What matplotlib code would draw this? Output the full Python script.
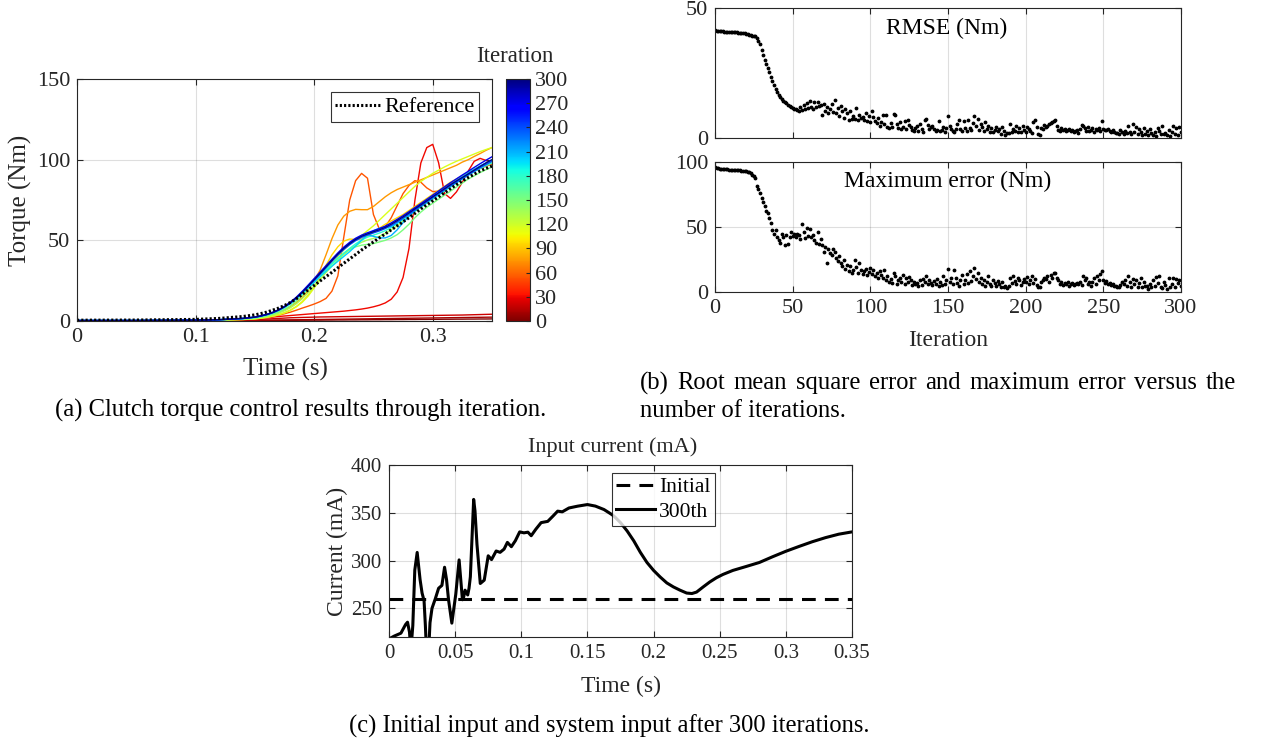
import numpy as np
import matplotlib
matplotlib.use('Agg')
import matplotlib.pyplot as plt
from matplotlib import colors, cm

plt.rcParams['font.family'] = ['Liberation Serif', 'DejaVu Serif']

# ---------------- data: panel (a) torque curves ----------------
time_a = [0, 0.05, 0.1, 0.12, 0.14,
          0.15, 0.155, 0.16, 0.165, 0.17, 0.175, 0.18, 0.185, 0.19, 0.195,
          0.2, 0.205, 0.21, 0.215, 0.22, 0.225, 0.23, 0.235, 0.24, 0.245,
          0.25, 0.255, 0.26, 0.265, 0.27, 0.275, 0.28, 0.285, 0.29, 0.295,
          0.3, 0.305, 0.31, 0.315, 0.32, 0.325, 0.33, 0.335, 0.34, 0.345,
          0.35]

reference = [0.5, 0.6, 1.0, 1.6, 2.8,
             3.8, 4.6, 5.5, 6.7, 8.0, 9.6, 11.5, 13.8, 16.5, 19.3,
             22.0, 24.8, 27.5, 30.2, 33.0, 35.8, 38.5, 41.2, 44.0, 46.5,
             49.0, 51.5, 54.0, 56.5, 59.0, 61.5, 64.0, 66.7, 69.5, 72.0,
             74.5, 77.0, 79.5, 82.0, 84.5, 86.8, 89.0, 91.0, 93.0, 94.6,
             96.0]

iter_shown = [0, 10, 20, 30, 55, 75, 95, 115, 135, 150, 180, 200, 210, 240, 270, 300]

torque_it0 = [0.2, 0.2, 0.3, 0.3, 0.3,
              0.3, 0.3, 0.35, 0.35, 0.4, 0.4, 0.45, 0.45, 0.5, 0.5,
              0.55, 0.55, 0.6, 0.6, 0.65, 0.65, 0.7, 0.7, 0.75, 0.75,
              0.8, 0.8, 0.85, 0.85, 0.9, 0.9, 0.95, 0.95, 1.0, 1.0,
              1.05, 1.05, 1.1, 1.1, 1.15, 1.15, 1.2, 1.2, 1.25, 1.25,
              1.3]
torque_it10 = [0.2, 0.2, 0.3, 0.3, 0.4,
               0.4, 0.45, 0.5, 0.55, 0.6, 0.65, 0.7, 0.75, 0.8, 0.85,
               0.9, 0.95, 1.0, 1.05, 1.1, 1.15, 1.2, 1.25, 1.3, 1.35,
               1.4, 1.45, 1.5, 1.55, 1.6, 1.65, 1.7, 1.75, 1.8, 1.85,
               1.9, 1.95, 2.0, 2.05, 2.1, 2.15, 2.2, 2.25, 2.3, 2.35,
               2.4]
torque_it20 = [0.2, 0.2, 0.3, 0.4, 0.6,
               0.8, 1.0, 1.2, 1.4, 1.6, 1.8, 2.0, 2.1, 2.2, 2.3,
               2.4, 2.5, 2.55, 2.6, 2.65, 2.7, 2.75, 2.8, 2.85, 2.9,
               2.95, 3.0, 3.05, 3.1, 3.15, 3.2, 3.25, 3.3, 3.35, 3.4,
               3.45, 3.5, 3.55, 3.6, 3.65, 3.7, 3.8, 3.9, 4.0, 4.1,
               4.2]
torque_it30 = [0.2, 0.2, 0.4, 0.6, 1.0,
               1.3, 1.6, 2.0, 2.4, 2.8, 3.1, 3.4, 3.7, 4.0, 4.3,
               4.6, 4.9, 5.2, 5.5, 5.8, 6.1, 6.5, 6.9, 7.4, 8.0,
               8.8, 9.8, 11.2, 13.5, 18.0, 27.0, 45.0, 75.0, 98.0, 107.5,
               109.5, 98.0, 79.0, 76.0, 80.0, 86.0, 93.0, 99.0, 100.8, 99.5,
               97.5]
torque_it55 = [0.2, 0.2, 0.4, 0.6, 1.0,
               1.4, 1.8, 2.3, 2.9, 3.6, 4.5, 5.5, 6.7, 8.0, 9.2,
               10.5, 12.0, 14.0, 18.5, 28.0, 52.0, 75.0, 87.0, 91.5, 88.5,
               66.0, 57.0, 58.5, 64.0, 71.5, 79.0, 84.0, 87.0, 86.0, 82.5,
               80.2, 80.5, 83.0, 85.0, 87.0, 89.5, 91.5, 93.0, 94.5, 96.0,
               97.3]
torque_it75 = [0.2, 0.2, 0.4, 0.6, 1.2,
               1.8, 2.4, 3.2, 4.2, 5.5, 7.0, 9.0, 11.5, 14.5, 19.0,
               25.0, 31.5, 41.0, 51.0, 59.5, 65.0, 68.0, 69.2, 69.0, 69.0,
               71.0, 74.0, 77.0, 79.5, 81.5, 83.0, 84.5, 86.0, 87.5, 89.0,
               90.5, 92.0, 93.5, 95.0, 96.5, 98.5, 100.0, 102.0, 103.8, 105.8,
               107.5]
torque_it95 = [0.2, 0.2, 0.4, 0.6, 1.0,
               1.4, 1.8, 2.4, 3.1, 4.0, 5.2, 6.8, 9.0, 12.0, 16.0,
               21.0, 27.5, 34.5, 41.0, 46.0, 49.5, 50.8, 50.5, 50.8, 52.5,
               55.0, 57.5, 60.0, 62.0, 64.0, 66.0, 68.5, 71.0, 73.5, 76.0,
               78.5, 81.0, 83.5, 86.0, 88.0, 90.0, 92.0, 94.0, 95.8, 97.5,
               99.0]
torque_it115 = [0.2, 0.2, 0.3, 0.5, 0.9,
                1.3, 1.7, 2.2, 2.9, 3.8, 5.0, 6.6, 8.8, 11.6, 15.5,
                20.5, 25.5, 30.5, 35.5, 40.0, 44.0, 47.5, 50.5, 53.0, 56.0,
                59.0, 62.5, 66.0, 69.5, 73.0, 76.5, 80.0, 83.5, 86.5, 89.0,
                91.5, 93.5, 95.5, 97.3, 99.0, 100.5, 102.0, 103.5, 105.0, 106.3,
                107.5]
torque_it135 = [0.2, 0.2, 0.4, 0.6, 1.1,
                1.6, 2.1, 2.8, 3.7, 4.8, 6.3, 8.2, 10.7, 13.8, 17.5,
                21.8, 26.0, 30.0, 34.0, 37.8, 41.2, 44.2, 46.8, 48.8, 50.2,
                51.2, 52.5, 54.2, 56.5, 59.0, 62.0, 65.0, 68.0, 71.0, 73.8,
                76.5, 79.0, 81.5, 84.0, 86.5, 89.0, 91.2, 93.2, 95.0, 96.7,
                98.2]
torque_it150 = [0.2, 0.2, 0.4, 0.7, 1.3,
                1.9, 2.5, 3.3, 4.3, 5.6, 7.3, 9.5, 12.3, 15.8, 19.8,
                24.0, 28.0, 32.0, 35.5, 39.0, 42.0, 44.5, 46.0, 47.0, 47.5,
                48.0, 49.0, 50.0, 51.5, 53.5, 56.5, 60.0, 64.0, 67.5, 70.5,
                73.0, 75.5, 78.0, 80.5, 83.0, 85.5, 88.0, 90.0, 92.0, 93.8,
                95.5]
torque_it180 = [0.3, 0.3, 0.5, 0.8, 1.5,
                2.2, 2.9, 3.8, 5.0, 6.5, 8.4, 10.8, 13.8, 17.2, 21.0,
                24.8, 28.5, 32.0, 35.5, 38.8, 42.0, 45.0, 47.8, 50.2, 52.0,
                53.2, 54.5, 56.0, 58.0, 60.5, 63.0, 65.5, 68.0, 70.5, 73.0,
                75.5, 78.0, 80.5, 83.0, 85.5, 88.0, 90.3, 92.5, 94.5, 96.3,
                98.0]
torque_it200 = [0.3, 0.3, 0.5, 0.8, 1.5,
                2.2, 2.9, 3.8, 5.0, 6.5, 8.4, 10.8, 13.8, 17.0, 20.5,
                24.0, 27.5, 30.8, 34.0, 37.0, 40.0, 43.0, 46.5, 50.0, 53.5,
                56.0, 57.5, 58.0, 58.5, 60.5, 63.5, 66.5, 69.5, 72.0, 74.5,
                77.0, 79.5, 82.0, 84.5, 87.0, 89.5, 91.8, 94.0, 96.0, 98.0,
                99.5]
torque_it210 = [0.3, 0.3, 0.5, 0.8, 1.6,
                2.4, 3.1, 4.0, 5.2, 6.8, 8.8, 11.3, 14.3, 17.8, 21.6,
                25.5, 29.5, 33.5, 37.5, 41.5, 45.0, 48.0, 50.5, 52.5, 53.5,
                52.5, 51.5, 51.5, 53.0, 56.5, 61.0, 65.0, 68.5, 71.5, 74.0,
                76.5, 79.0, 81.5, 84.0, 86.5, 89.0, 91.5, 93.8, 96.0, 98.0,
                99.8]
torque_it240 = [0.3, 0.3, 0.5, 0.8, 1.6,
                2.4, 3.1, 4.0, 5.2, 6.8, 8.8, 11.3, 14.3, 17.8, 21.5,
                25.2, 29.0, 33.0, 37.0, 40.8, 44.3, 47.3, 49.8, 51.8, 53.3,
                54.6, 55.8, 57.3, 59.2, 61.4, 63.7, 66.2, 68.7, 71.2, 73.8,
                76.3, 78.8, 81.3, 83.7, 86.0, 88.3, 90.6, 92.8, 95.0, 97.0,
                99.0]
torque_it270 = [0.3, 0.3, 0.5, 0.8, 1.6,
                2.4, 3.2, 4.1, 5.4, 7.0, 9.1, 11.7, 14.8, 18.4, 22.3,
                26.3, 30.3, 34.3, 38.3, 42.2, 45.8, 48.8, 51.3, 53.2, 54.7,
                56.0, 57.3, 58.8, 60.8, 63.0, 65.3, 67.8, 70.3, 72.8, 75.4,
                78.0, 80.6, 83.2, 85.7, 88.1, 90.5, 92.8, 95.2, 97.5, 99.7,
                101.8]
torque_it300 = [0.3, 0.3, 0.5, 0.8, 1.6,
                2.4, 3.1, 4.0, 5.2, 6.8, 8.8, 11.3, 14.3, 17.8, 21.6,
                25.5, 29.5, 33.5, 37.5, 41.5, 45.0, 48.0, 50.5, 52.5, 54.0,
                55.3, 56.5, 58.0, 60.0, 62.2, 64.5, 67.0, 69.5, 72.0, 74.5,
                77.0, 79.5, 82.0, 84.5, 86.8, 89.0, 91.2, 93.5, 95.8, 98.0,
                100.0]

torque_curves = [torque_it0, torque_it10, torque_it20, torque_it30, torque_it55,
                 torque_it75, torque_it95, torque_it115, torque_it135, torque_it150,
                 torque_it180, torque_it200, torque_it210, torque_it240,
                 torque_it270, torque_it300]

# ---------------- data: panel (b) errors vs iteration ----------------
rmse = [41.5, 41.3, 41.2, 41.1, 41.0, 41.0, 40.9, 40.9, 40.8, 40.8,
        40.8, 40.7, 40.7, 40.6, 40.6, 40.5, 40.5, 40.4, 40.3, 40.3,
        40.1, 40.0, 39.8, 39.6, 39.4, 39.3, 39.1, 38.5, 37.5, 36.0,
        34.0, 32.0, 30.0, 28.5, 27.0, 25.2, 23.5, 21.8, 20.2, 18.8,
        17.6, 16.6, 15.8, 15.0, 14.4, 13.8, 13.3, 12.8, 12.3, 12.0,
        11.6, 11.2, 11.0, 10.9, 10.5, 11.8, 10.6, 12.8, 11.2, 13.5,
        11.5, 14.2, 12.0, 11.2, 13.8, 11.8, 14.0, 12.2, 12.8, 9.0,
        13.2, 10.4, 11.8, 9.6, 11.2, 13.0, 10.0, 14.5, 9.8, 11.6,
        8.4, 12.4, 10.2, 7.8, 11.2, 9.6, 7.0, 10.4, 7.2, 8.6,
        7.4, 11.6, 7.0, 8.8, 7.6, 8.2, 6.8, 9.8, 6.4, 8.4,
        6.0, 10.2, 8.2, 6.4, 5.6, 7.6, 4.6, 6.2, 8.8, 5.2,
        9.0, 4.4, 4.0, 5.6, 4.2, 9.2, 9.0, 5.2, 3.8, 6.0,
        3.6, 4.4, 6.4, 3.4, 7.0, 5.0, 4.2, 3.2, 2.8, 3.8,
        4.6, 2.8, 5.4, 3.6, 2.4, 6.8, 7.2, 5.0, 3.6, 4.2,
        4.6, 3.4, 2.8, 3.2, 6.6, 2.6, 3.0, 4.2, 2.2, 3.8,
        8.4, 4.8, 3.6, 2.6, 2.2, 3.4, 5.4, 6.8, 3.4, 2.8,
        6.4, 4.0, 2.6, 7.0, 3.8, 3.2, 5.6, 8.4, 4.6, 7.2,
        3.2, 5.4, 4.4, 2.6, 6.2, 3.4, 4.6, 2.4, 3.8, 2.2,
        3.2, 4.4, 2.6, 3.4, 1.6, 4.2, 2.6, 1.2, 2.0, 1.8,
        5.4, 2.2, 3.6, 2.8, 4.6, 2.4, 4.0, 2.2, 4.8, 3.0,
        2.4, 4.2, 3.6, 2.6, 1.8, 6.0, 6.8, 4.2, 1.6, 1.2,
        4.0, 3.6, 5.0, 4.2, 4.8, 5.2, 5.6, 6.0, 6.4, 6.8,
        4.6, 3.2, 2.8, 3.8, 3.2, 3.6, 2.6, 3.0, 3.4, 2.8,
        3.0, 2.4, 2.6, 3.2, 2.0, 3.6, 5.0, 4.6, 4.0, 2.6,
        4.4, 2.8, 3.2, 3.8, 2.4, 3.6, 3.2, 4.0, 2.8, 6.4,
        3.6, 3.2, 3.0, 3.4, 2.6, 2.2, 3.0, 2.4, 2.0, 1.8,
        1.6, 3.0, 2.2, 1.4, 2.8, 1.8, 4.6, 2.4, 1.6, 5.2,
        2.2, 4.4, 1.6, 3.6, 2.4, 1.2, 3.8, 1.4, 2.6, 1.0,
        3.4, 1.8, 1.2, 2.2, 0.8, 4.0, 2.6, 1.4, 4.6, 1.6,
        2.0, 1.0, 3.2, 0.8, 2.2, 4.8, 1.6, 3.8, 1.2, 4.2,
        2.4]

max_error = [96.0, 95.5, 95.2, 95.0, 94.8, 94.6, 94.6, 94.4, 94.3, 94.2,
             94.1, 94.0, 93.8, 93.8, 93.6, 93.5, 93.5, 93.4, 93.3, 93.2,
             93.0, 92.6, 92.0, 91.2, 90.0, 89.0, 87.8, 81.5, 79.5, 76.0,
             72.0, 69.5, 66.0, 62.0, 60.5, 57.0, 53.0, 48.0, 44.5, 47.5,
             42.5, 40.0, 38.0, 45.0, 42.0, 36.5, 44.0, 37.0, 42.5, 46.0,
             43.0, 44.5, 42.0, 45.0, 43.5, 41.0, 52.5, 46.0, 41.5, 49.5,
             43.0, 48.5, 42.0, 44.0, 40.0, 38.0, 46.0, 37.0, 41.0, 36.0,
             31.0, 34.5, 22.0, 33.0, 30.0, 28.5, 33.0, 31.0, 26.0, 24.0,
             28.0, 22.0, 20.0, 25.0, 18.0, 21.0, 16.0, 20.0, 14.5, 17.0,
             25.0, 19.0, 15.0, 22.5, 17.0, 13.5, 16.0, 18.0, 13.0, 15.5,
             18.5, 14.0, 17.0, 12.5, 15.0, 11.0, 16.5, 13.0, 10.5, 17.0,
             9.0, 12.5, 8.0, 10.0, 7.0, 14.5, 12.0, 6.5, 9.5, 11.0,
             8.0, 13.0, 6.0, 10.5, 7.5, 11.5, 9.0, 5.5, 8.0, 6.5,
             7.0, 5.0, 9.5, 5.5, 10.0, 8.0, 12.5, 6.5, 9.0, 7.0,
             5.5, 8.5, 6.5, 10.0, 4.5, 7.5, 5.5, 12.0, 6.0, 9.0,
             17.5, 8.0, 11.0, 6.0, 17.0, 10.5, 7.0, 4.5, 9.5, 13.0,
             6.5, 9.0, 14.0, 7.0, 16.0, 8.5, 12.0, 18.5, 10.0, 15.0,
             8.0, 11.0, 6.0, 9.5, 5.0, 8.0, 12.0, 6.5, 4.5, 9.0,
             7.0, 5.0, 8.5, 6.0, 4.0, 7.5, 3.5, 5.0, 3.0, 4.5,
             10.5, 7.0, 12.0, 8.5, 6.0, 11.0, 9.0, 5.5, 7.5, 10.0,
             8.0, 11.5, 6.0, 9.0, 12.0, 7.0, 10.0, 5.5, 4.0, 3.5,
             7.5, 9.0, 11.0, 10.0, 12.0, 8.0, 13.0, 10.5, 14.5, 15.0,
             11.0, 9.0, 6.5, 8.0, 5.5, 7.0, 6.0, 7.5, 5.0, 6.5,
             7.0, 5.5, 6.0, 7.0, 6.0, 7.5, 5.5, 12.5, 9.0, 11.0,
             6.0, 8.0, 5.0, 7.5, 10.5, 6.5, 12.0, 9.0, 14.0, 16.5,
             9.5, 7.0, 8.5, 6.0, 7.0, 5.5, 6.0, 4.5, 5.0, 3.5,
             4.0, 5.5, 8.0, 6.5, 9.0, 5.0, 12.5, 7.5, 4.0, 10.0,
             6.5, 9.0, 4.0, 7.0, 10.5, 3.5, 8.0, 5.0, 4.5, 2.5,
             6.0, 3.5, 9.0, 5.0, 11.5, 7.0, 12.5, 4.0, 3.0, 8.0,
             5.5, 2.5, 10.5, 4.0, 6.5, 11.0, 3.5, 10.0, 7.0, 9.5,
             4.5]

# ---------------- data: panel (c) input current ----------------
time_c = [0.0, 0.004, 0.009, 0.0125, 0.014, 0.0155, 0.0165, 0.018, 0.0195, 0.0213,
          0.0235, 0.025, 0.0265, 0.0275, 0.0285, 0.0298, 0.031, 0.0325, 0.035, 0.0375,
          0.04, 0.042, 0.0435, 0.045, 0.0475, 0.0505, 0.053, 0.0555, 0.0565, 0.0575,
          0.0595, 0.0605, 0.0615, 0.064, 0.065, 0.0665, 0.069, 0.072, 0.075, 0.0775,
          0.081, 0.084, 0.087, 0.0895, 0.0925, 0.0955, 0.0988, 0.102, 0.105, 0.1075,
          0.111, 0.115, 0.12, 0.124, 0.1275, 0.131, 0.136, 0.1425, 0.15, 0.156,
          0.1625, 0.1675, 0.17, 0.175, 0.18, 0.185, 0.19, 0.195, 0.2, 0.205,
          0.21, 0.215, 0.22, 0.225, 0.229, 0.2325, 0.2375, 0.2425, 0.2475, 0.2525,
          0.26, 0.27, 0.28, 0.29, 0.3, 0.31, 0.32, 0.33, 0.34, 0.35]
current_300 = [218, 221, 224, 233, 235.5, 225, 205, 232, 290, 308.5,
               280, 266, 258, 232, 200, 200, 235, 250, 260, 271,
               274, 293, 280, 259, 234.5, 265, 300.7, 259, 262, 269,
               264, 271, 283, 364, 352, 317, 276, 279.5, 305, 301,
               310, 308.6, 312, 319, 314.5, 320.7, 330, 329, 329.7, 326,
               332.8, 339.7, 341, 346.6, 351.7, 351, 355, 356.9, 358.6, 357,
               353.4, 349, 346.6, 339.7, 331, 320.7, 308.6, 298, 289.7, 282.8,
               276.6, 272.4, 269, 266, 265.5, 267, 272.4, 277.6, 282, 285.5,
               289.7, 293.8, 298, 304, 309.7, 314.8, 319.7, 324, 327.6, 330]
current_initial = 260

# ---------------- figure ----------------
W, H = 1262, 745
fig = plt.figure(figsize=(W / 100, H / 100), dpi=100)
DARK = (0.15, 0.15, 0.15)


def ax_px(l, t, r, b):
    return fig.add_axes([l / W, 1 - b / H, (r - l) / W, (b - t) / H])


def ftext(x, y, s, **kw):
    kw.setdefault('ha', 'center')
    kw.setdefault('va', 'center')
    kw.setdefault('color', DARK)
    return fig.text(x / W, 1 - y / H, s, **kw)


def style(ax, ts):
    for s in ax.spines.values():
        s.set_color(DARK)
        s.set_linewidth(0.8)
    ax.tick_params(direction='in', top=True, right=True, color=DARK,
                   labelcolor=DARK, labelsize=ts, length=4, width=0.8, pad=5)
    ax.grid(True, color=DARK, alpha=0.15, linewidth=0.8)
    ax.set_axisbelow(True)


# ---- panel (a)
TSA = 16
ax_a = ax_px(77, 79, 492, 321)
style(ax_a, TSA)
cmap = plt.get_cmap('jet_r')
norm = colors.Normalize(0, 300)
for it, vals in zip(iter_shown, torque_curves):
    ax_a.plot(time_a, vals, color=cmap(norm(it)), lw=1.0)
ax_a.plot(time_a, reference, color='k', ls=(0, (0.7, 0.7)), lw=2.2, label='Reference')
ax_a.set_xlim(0, 0.35)
ax_a.set_ylim(0, 150)
ax_a.set_xticks([0, 0.1, 0.2, 0.3])
ax_a.set_xticklabels(['0', '0.1', '0.2', '0.3'])
ax_a.set_yticks([0, 50, 100, 150])
leg = ax_a.legend(loc='upper right', fontsize=16, frameon=True, fancybox=False,
                  borderaxespad=0.6, handlelength=2.0, handletextpad=0.2,
                  borderpad=0.2)
leg.get_frame().set_edgecolor('k')
leg.get_frame().set_linewidth(0.8)
ftext(285, 369, 'Time (s)', fontsize=18)
ftext(20, 200, 'Torque (Nm)', fontsize=18, rotation=90)

cax = ax_px(506, 79, 530, 321)
cb = fig.colorbar(cm.ScalarMappable(norm=norm, cmap=cmap), cax=cax)
cb.set_ticks(list(range(0, 301, 30)))
cax.tick_params(labelsize=TSA, color=DARK, labelcolor=DARK, direction='in', length=3, width=0.8)
cb.outline.set_edgecolor(DARK)
cb.outline.set_linewidth(0.8)
ftext(515, 57, 'Iteration', fontsize=16.5)

# ---- panel (b)
TSB = 16
iters = np.arange(len(rmse))
ax_b1 = ax_px(715, 8, 1181, 138)
style(ax_b1, TSB)
ax_b1.plot(iters, rmse, ls='none', marker='.', ms=3.5, color='k')
ax_b1.set_xlim(0, 300)
ax_b1.set_ylim(0, 50)
ax_b1.set_yticks([0, 50])
ax_b1.set_xticks(range(0, 301, 50))
ax_b1.tick_params(labelbottom=False)
ftext(947, 28, 'RMSE (Nm)', fontsize=17, color='k')

ax_b2 = ax_px(715, 162, 1181, 292)
style(ax_b2, TSB)
ax_b2.plot(iters, max_error, ls='none', marker='.', ms=3.5, color='k')
ax_b2.set_xlim(0, 300)
ax_b2.set_ylim(0, 100)
ax_b2.set_yticks([0, 50, 100])
ax_b2.set_xticks(range(0, 301, 50))
ftext(948, 181, 'Maximum error (Nm)', fontsize=17, color='k')
ftext(948, 341, 'Iteration', fontsize=17)

# ---- panel (c)
TSC = 15
ax_c = ax_px(389, 465, 852, 637)
style(ax_c, TSC)
ax_c.plot([0, 0.35], [current_initial, current_initial], color='k', lw=2.2,
          ls=(0, (4.5, 3)), label='Initial')
ax_c.plot(time_c, current_300, color='k', lw=2.2, label='300th')
ax_c.set_xlim(0, 0.35)
ax_c.set_ylim(220, 400)
ax_c.set_yticks([250, 300, 350, 400])
ax_c.set_xticks([0, 0.05, 0.1, 0.15, 0.2, 0.25, 0.3, 0.35])
ax_c.set_xticklabels(['0', '0.05', '0.1', '0.15', '0.2', '0.25', '0.3', '0.35'])
legc = ax_c.legend(loc='upper left', bbox_to_anchor=((612 - 389) / 463, 1 - (473 - 465) / 172),
                   fontsize=15.5, frameon=True, fancybox=False, borderaxespad=0,
                   handlelength=1.8, handletextpad=0.2, borderpad=0.2, labelspacing=0.2)
legc.get_frame().set_edgecolor('k')
legc.get_frame().set_linewidth(0.8)
ftext(613, 447, 'Input current (mA)', fontsize=16)
ftext(621, 686, 'Time (s)', fontsize=17)
ftext(337, 551, 'Current (mA)', fontsize=17, rotation=90)

# ---- captions
CS = 17.7
ftext(301, 410, '(a) Clutch torque control results through iteration.', fontsize=CS, color='k')
ftext(609, 726, '(c) Initial input and system input after 300 iterations.', fontsize=CS, color='k')

line1 = '(b) Root mean square error and maximum error versus the'
words = line1.split()
fig.canvas.draw()
renderer = fig.canvas.get_renderer()
objs = [fig.text(0, 0, w, fontsize=CS, color='k', ha='left', va='center') for w in words]
widths = [o.get_window_extent(renderer).width for o in objs]
x0, x1 = 640, 1236
gap = (x1 - x0 - sum(widths)) / (len(words) - 1)
x = x0
for o, wd in zip(objs, widths):
    o.set_position((x / W, 1 - 383 / H))
    x += wd + gap
ftext(640, 411, 'number of iterations.', fontsize=CS, color='k', ha='left')

fig.savefig('out.png', dpi=100)
